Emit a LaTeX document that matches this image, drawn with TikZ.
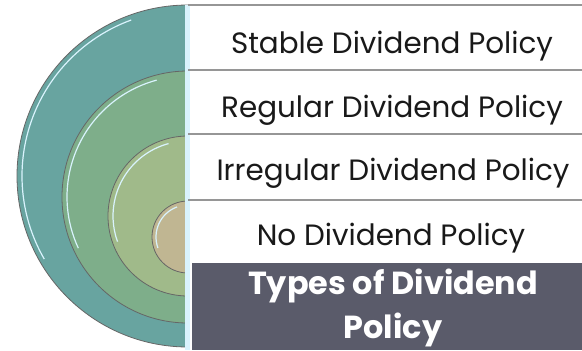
\documentclass[tikz,border=0pt]{standalone}
\usepackage{fontspec}
\setmainfont{Poppins}

\definecolor{ringA}{RGB}{104,164,160}
\definecolor{ringB}{RGB}{126,174,138}
\definecolor{ringC}{RGB}{160,186,138}
\definecolor{ringD}{RGB}{192,182,146}
\definecolor{titlebox}{RGB}{90,91,106}
\definecolor{rowline}{RGB}{150,150,150}

\tikzset{
  ring/.style={draw=black!60, line width=0.8bp},
  glint/.style={white!85!cyan, line width=1.2bp},
  rowtext/.style={anchor=base, inner sep=0pt, font=\fontsize{29.5}{34}\selectfont, text=black!90},
}

\begin{document}
\begin{tikzpicture}[x=1bp, y=-1bp]
            \useasboundingbox (0,0) rectangle (582,350);
            % half rings, largest first
            \draw[ring, fill=ringA] (188,176) ++(90:171) arc[start angle=90, end angle=270, radius=171] -- cycle;
            \draw[glint] (188,176) ++(250:166) arc[start angle=250, end angle=150, radius=166];
            \draw[ring, fill=ringB] (188,197) ++(90:126) arc[start angle=90, end angle=270, radius=126] -- cycle;
            \draw[glint] (188,197) ++(255:121) arc[start angle=255, end angle=155, radius=121];
            \draw[ring, fill=ringC] (188,216) ++(90:80) arc[start angle=90, end angle=270, radius=80] -- cycle;
            \draw[glint] (188,216) ++(255:75) arc[start angle=255, end angle=160, radius=75];
            \draw[ring, fill=ringD] (188,237) ++(90:36) arc[start angle=90, end angle=270, radius=36] -- cycle;
            \draw[glint] (188,237) ++(250:32) arc[start angle=250, end angle=160, radius=32];
            % light strip and rows
            \fill[white!85!cyan] (185,5) rectangle (190,350);
            \draw[rowline, line width=1.5bp] (188,5) -- (582,5);
            \draw[rowline, line width=1.5bp] (188,70) -- (582,70);
            \draw[rowline, line width=1.5bp] (188,134) -- (582,134);
            \draw[rowline, line width=1.5bp] (188,200) -- (582,200);
            \fill[titlebox] (192,263) rectangle (582,350);
            \node[rowtext] (stable) at (392,53) {Stable Dividend Policy};
            \node[rowtext] (regular) at (392,117) {Regular Dividend Policy};
            \node[rowtext] (irregular) at (393,180) {Irregular Dividend Policy};
            \node[rowtext] (nodiv) at (391,245) {No Dividend Policy};
            \node[anchor=base, inner sep=0pt, font=\bfseries\fontsize{32}{44}\selectfont, text=white, align=center] (title) at (393,338) {Types of Dividend\\Policy};
        \end{tikzpicture}
\end{document}
